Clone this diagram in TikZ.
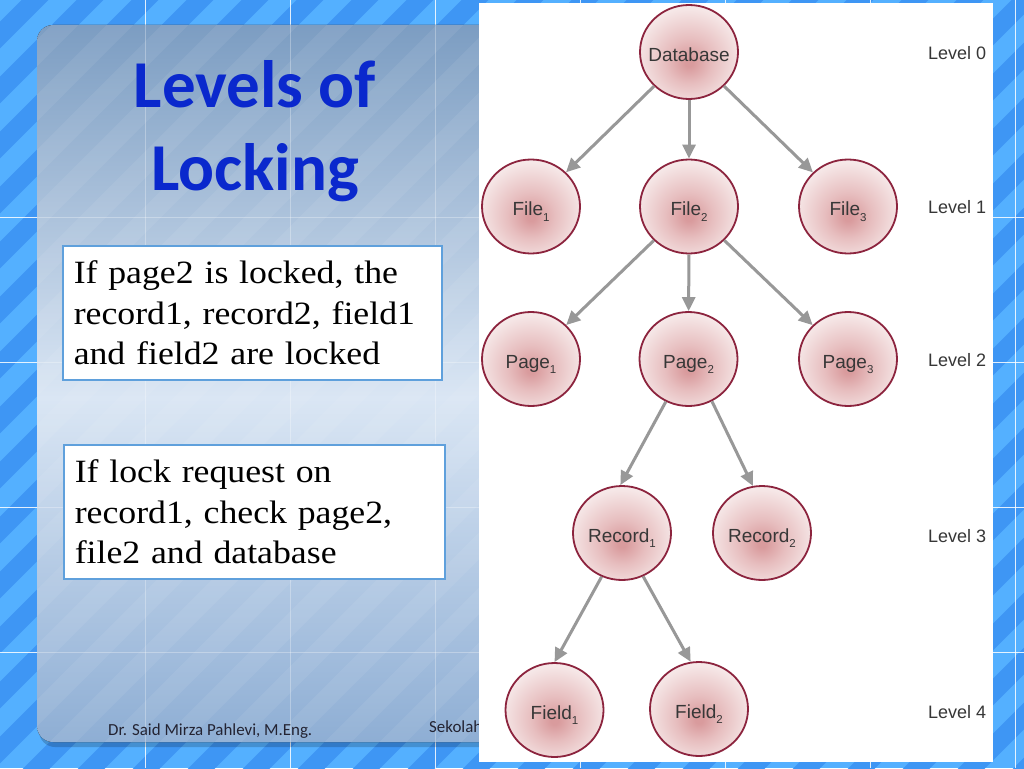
\documentclass[tikz,border=0pt]{standalone}
\usepackage{fontspec}
\newfontfamily\boxfont{Liberation Serif}[FakeStretch=1.1]
\newfontfamily\calfont{Carlito}
\newfontfamily\helv{Liberation Sans}
\usetikzlibrary{arrows.meta,shapes.geometric}
\definecolor{stripeA}{RGB}{84,176,255}
\definecolor{stripeB}{RGB}{62,150,244}
\definecolor{ptop}{RGB}{124,157,194}
\definecolor{pmid}{RGB}{218,230,244}
\definecolor{pbot}{RGB}{142,174,212}
\definecolor{bubin}{RGB}{217,155,157}
\definecolor{bubmid}{RGB}{231,190,191}
\definecolor{bubout}{RGB}{246,232,232}
\definecolor{cborder}{RGB}{140,36,62}
\definecolor{egray}{RGB}{152,152,152}
\definecolor{ntext}{RGB}{55,55,55}
\definecolor{titleblue}{RGB}{10,40,205}
\definecolor{boxblue}{RGB}{95,160,220}
\definecolor{foottext}{RGB}{35,35,50}
\pgfdeclareverticalshading{panelshade}{100bp}{color(0bp)=(pbot); color(25bp)=(pbot); color(49bp)=(pmid); color(75bp)=(ptop); color(100bp)=(ptop)}
\pgfdeclareradialshading{bubble}{\pgfpoint{0bp}{-6bp}}{color(0bp)=(bubin); color(2bp)=(bubin); color(12bp)=(bubmid); color(27bp)=(bubout); color(60bp)=(bubout)}
\newcommand\lvsub[1]{\raisebox{-0.3em}[0pt][0pt]{\fontsize{11.5}{11.5}\selectfont#1}}
\begin{document}
\begin{tikzpicture}[x=1pt,y=-1pt,
  gridline/.style={draw=white, line width=1pt, opacity=0.85},
  tnode/.style={ellipse, draw=cborder, line width=1.8pt, minimum width=98pt, minimum height=94pt, inner xsep=-15pt, inner ysep=0pt, text height=18pt, text depth=0pt, shading=bubble, font=\helv\fontsize{19}{21}\selectfont, text=ntext},
  edge/.style={draw=egray, line width=3pt, -{Triangle[length=14pt,width=13pt]}},
  lvl/.style={anchor=west, inner sep=0pt, font=\helv\fontsize{18}{20}\selectfont, text=ntext},
  infobox/.style={draw=boxblue, line width=1.5pt, fill=white, align=left, anchor=north west, minimum height=134pt, inner xsep=11pt, inner ysep=0pt, font=\boxfont\fontsize{32.5}{40.5}\selectfont, text=black},
  titletext/.style={align=center, font=\calfont\bfseries\fontsize{67}{83}\selectfont, text=titleblue},
  foot/.style={anchor=base west, inner sep=0pt, font=\calfont\fontsize{16.9}{18}\selectfont, text=foottext}]
\useasboundingbox (0,0) rectangle (1024,768);
% background stripes
\fill[stripeA] (0,0) rectangle (1024,768);
\begin{scope}
  \clip (0,0) rectangle (1024,768);
  \foreach \i in {-820,-765,...,1100} \draw[stripeB, line width=19pt] (\i,800) -- ++(860,-860);
\end{scope}
\foreach \x in {145,290,...,1015} \draw[gridline] (\x,0) -- (\x,768);
\foreach \y in {217,362,507,652} \draw[gridline] (0,\y) -- (1024,\y);
% panel
\fill[black, opacity=0.18, rounded corners=16pt] (39,29) rectangle (992,747);
\fill[shading=panelshade, rounded corners=16pt] (37,25) rectangle (990,742);
\begin{scope}
  \clip[rounded corners=16pt] (37,25) rectangle (990,742);
  \foreach \i in {-820,-765,...,1100} \draw[white, opacity=0.07, line width=19pt] (\i,800) -- ++(860,-860);
  \foreach \x in {145,290,...,1015} \draw[white, opacity=0.3, line width=1pt] (\x,0) -- (\x,768);
  \foreach \y in {217,362,507,652} \draw[white, opacity=0.3, line width=1pt] (0,\y) -- (1024,\y);
\end{scope}
% title
\node[titletext] (title) at (255,131) {Levels of\\Locking};
% info boxes
\node[infobox, minimum width=379pt, text width=357pt] (box1) at (62,245) {If page2 is locked, the\\record1, record2, field1\\and field2 are locked};
\node[infobox, minimum width=381pt, text width=359pt] (box2) at (63,444) {If lock request on\\record1, check page2,\\file2 and database};
% footer
\node[foot] (author) at (108,735) {Dr. Said Mirza Pahlevi, M.Eng.};
\node[foot] (inst) at (429,732) {Sekolah};
% image panel
\fill[white] (479,3) rectangle (993,762);
% tree
\node[tnode] (db) at (689,52) {Database};
\node[tnode] (f1) at (531,206.5) {File\lvsub{1}};
\node[tnode] (f2) at (689,206.5) {File\lvsub{2}};
\node[tnode] (f3) at (848,206.5) {File\lvsub{3}};
\node[tnode] (p1) at (531,359) {Page\lvsub{1}};
\node[tnode] (p2) at (688.5,359) {Page\lvsub{2}};
\node[tnode] (p3) at (848,359) {Page\lvsub{3}};
\node[tnode] (r1) at (622,533) {Record\lvsub{1}};
\node[tnode] (r2) at (762,533) {Record\lvsub{2}};
\node[tnode] (fd1) at (554.5,710) {Field\lvsub{1}};
\node[tnode] (fd2) at (699,709) {Field\lvsub{2}};
\draw[edge] (db) -- (f1);
\draw[edge] (db) -- (f2);
\draw[edge] (db) -- (f3);
\draw[edge] (f2) -- (p1);
\draw[edge] (f2) -- (p2);
\draw[edge] (f2) -- (p3);
\draw[edge] (p2.-118) -- (r1.92);
\draw[edge] (p2.-61) -- (r2.101);
\draw[edge] (r1.-115) -- (fd1.90);
\draw[edge] (r1.-64) -- (fd2.100);
% levels
\node[lvl] (l0) at (928,53) {Level 0};
\node[lvl] (l1) at (928,207) {Level 1};
\node[lvl] (l2) at (928,360.5) {Level 2};
\node[lvl] (l3) at (928,536) {Level 3};
\node[lvl] (l4) at (928,712) {Level 4};
\end{tikzpicture}
\end{document}
